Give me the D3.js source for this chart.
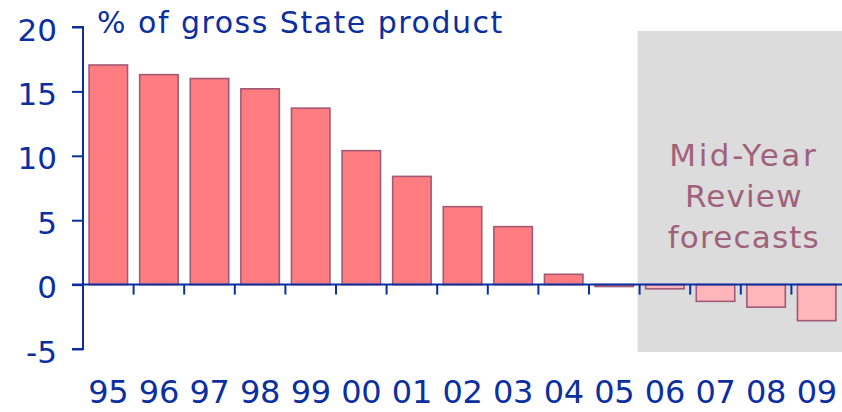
<!DOCTYPE html>
<html>
<head>
<meta charset="utf-8">
<script src="https://cdn.jsdelivr.net/npm/d3@7"></script>
<style>
  html, body { margin: 0; padding: 0; background: #ffffff; }
  svg { display: block; }
</style>
</head>
<body>
<svg id="chart" width="842" height="412"></svg>
<script>
const categories = ["95","96","97","98","99","00","01","02","03","04","05","06","07","08","09"];
const values = [17.05, 16.3, 16.0, 15.2, 13.7, 10.4, 8.4, 6.05, 4.5, 0.8, -0.15, -0.33, -1.3, -1.75, -2.8];
const forecastCats = ["06","07","08","09"];
const yTicks = [-5, 0, 5, 10, 15, 20];
const titleText = "% of gross State product";
const forecastLabel = ["Mid-Year", "Review", "forecasts"];

const blue = "#0b2f9f";
const svg = d3.select("#chart");

const x = d3.scaleBand().domain(categories).range([83, 842]).paddingInner(0.24).paddingOuter(0.12);
const y = d3.scaleLinear().domain([-5, 20]).range([349, 27]);
const step = x.step();
const gap = step - x.bandwidth();

// forecast shaded region
const fx0 = x(forecastCats[0]) - gap / 2 - 2;
svg.append("rect")
  .attr("x", fx0).attr("y", 31)
  .attr("width", 842 - fx0).attr("height", 321)
  .attr("fill", "#dcdcdc");

// forecast label
const cx = (fx0 + 842) / 2 + 4;
const ft = svg.append("text")
  .attr("text-anchor", "middle")
  .attr("font-family", "DejaVu Sans, sans-serif")
  .attr("font-size", 31)
  .attr("fill", "#a0627a");
forecastLabel.forEach((t, i) => {
  ft.append("tspan").attr("x", cx).attr("y", 166 + i * 41)
    .attr("letter-spacing", i === 0 ? "2.6px" : "1.2px")
    .text(t);
});

// bars
svg.selectAll("rect.bar").data(categories.map((c, i) => ({c, v: values[i]})))
  .enter().append("rect").attr("class", "bar")
  .attr("x", d => x(d.c))
  .attr("width", x.bandwidth())
  .attr("y", d => y(Math.max(0, d.v)))
  .attr("height", d => Math.max(1.5, Math.abs(y(d.v) - y(0))))
  .attr("fill", d => forecastCats.includes(d.c) ? "#ffb6ba" : "#ff7c80")
  .attr("stroke", "#a05a76")
  .attr("stroke-width", 1.6);

// y axis
const yAxis = d3.axisLeft(y).tickValues(yTicks).tickSize(11).tickPadding(15)
  .tickFormat(d => d < 0 ? "-" + Math.abs(d) : String(d));
const gy = svg.append("g").attr("transform", "translate(83,0)").call(yAxis);
gy.select(".domain").attr("stroke", blue).attr("stroke-width", 2).attr("d", `M-11,${y(20)}H0V${y(-5)}H-11`);
gy.selectAll(".tick line").attr("stroke", blue).attr("stroke-width", 2);
gy.selectAll(".tick text")
  .attr("fill", blue)
  .attr("font-family", "DejaVu Sans, sans-serif")
  .attr("font-size", 31)
  .attr("dy", "0.42em");

// zero line
svg.append("line")
  .attr("x1", 72).attr("x2", 842)
  .attr("y1", y(0)).attr("y2", y(0))
  .attr("stroke", blue).attr("stroke-width", 2);

// x axis ticks at band boundaries
svg.selectAll("line.xtick").data(categories.slice(1))
  .enter().append("line").attr("class", "xtick")
  .attr("x1", d => x(d) - gap / 2).attr("x2", d => x(d) - gap / 2)
  .attr("y1", y(0)).attr("y2", y(0) + 10)
  .attr("stroke", blue).attr("stroke-width", 2);

// x labels
svg.selectAll("text.xlab").data(categories)
  .enter().append("text").attr("class", "xlab")
  .attr("x", d => x(d) + x.bandwidth() / 2)
  .attr("y", 403)
  .attr("text-anchor", "middle")
  .attr("font-family", "DejaVu Sans, sans-serif")
  .attr("font-size", 32)
  .attr("letter-spacing", "-0.3px")
  .attr("fill", blue)
  .text(d => d);

// title
svg.append("text")
  .attr("x", 97).attr("y", 33)
  .attr("font-family", "DejaVu Sans, sans-serif")
  .attr("font-size", 30)
  .attr("letter-spacing", "1.5px")
  .attr("fill", blue)
  .text(titleText);
</script>
</body>
</html>
